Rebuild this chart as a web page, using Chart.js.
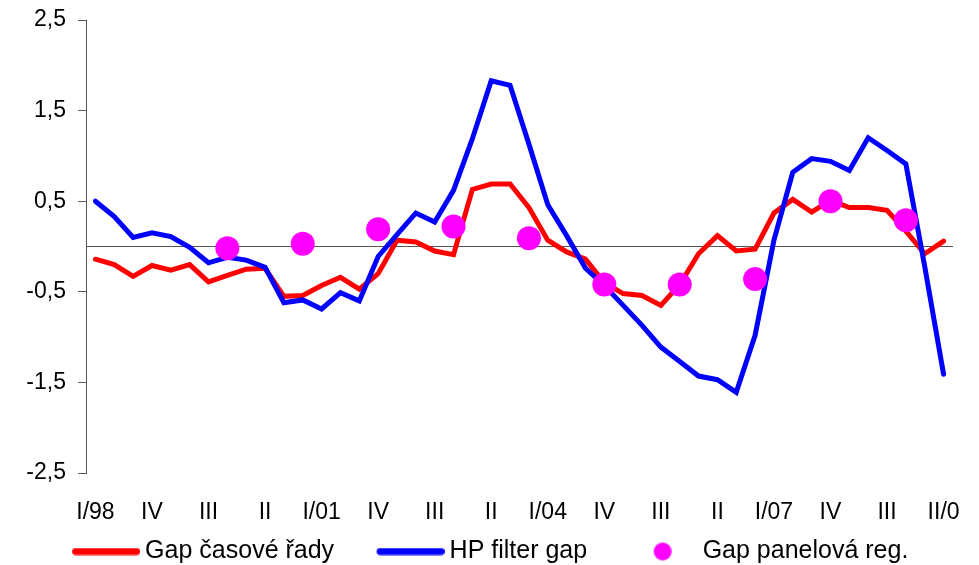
<!DOCTYPE html>
<html>
<head>
<meta charset="utf-8">
<script src="https://cdn.jsdelivr.net/npm/chart.js@4.4.1/dist/chart.umd.min.js"></script>
<style>
  html, body { margin: 0; padding: 0; background: #ffffff; }
  #c { display: block; }
</style>
</head>
<body>
<canvas id="c" width="979" height="565"></canvas>
<script>
// Quarters I/98 .. II/09
const quarters = [
  "I/98","II/98","III/98","IV/98",
  "I/99","II/99","III/99","IV/99",
  "I/00","II/00","III/00","IV/00",
  "I/01","II/01","III/01","IV/01",
  "I/02","II/02","III/02","IV/02",
  "I/03","II/03","III/03","IV/03",
  "I/04","II/04","III/04","IV/04",
  "I/05","II/05","III/05","IV/05",
  "I/06","II/06","III/06","IV/06",
  "I/07","II/07","III/07","IV/07",
  "I/08","II/08","III/08","IV/08",
  "I/09","II/09"
];

// Axis labels shown under every third quarter
const tickLabels = ["I/98","IV","III","II","I/01","IV","III","II","I/04","IV","III","II","I/07","IV","III","II/0"];

// Output gap from the time-series model
const gapTimeSeries = [
  -0.14, -0.20, -0.33, -0.21, -0.26, -0.20, -0.39, -0.32,
  -0.25, -0.24, -0.55, -0.54, -0.43, -0.34, -0.47, -0.30,
   0.07,  0.05, -0.05, -0.09,  0.63,  0.69,  0.69,  0.43,
   0.07, -0.06, -0.14, -0.40, -0.52, -0.54, -0.65, -0.42,
  -0.08,  0.12, -0.05, -0.03,  0.37,  0.52,  0.38,  0.51,
   0.43,  0.43,  0.40,  0.17, -0.08,  0.06
];

// Output gap from the HP filter
const hpFilterGap = [
   0.50,  0.33,  0.10,  0.15,  0.11, -0.01, -0.18, -0.12,
  -0.15, -0.23, -0.62, -0.59, -0.69, -0.51, -0.60, -0.11,
   0.13,  0.37,  0.27,  0.62,  1.19,  1.83,  1.78,  1.13,
   0.46,  0.12, -0.24, -0.43, -0.65, -0.87, -1.11, -1.27,
  -1.43, -1.47, -1.61, -0.98,  0.07,  0.82,  0.97,  0.94,
   0.84,  1.20,  1.06,  0.91, -0.22, -1.41
];

// Output gap from the panel regression (annual, fourth quarters)
const panelQuarters = ["IV/99","IV/00","IV/01","IV/02","IV/03","IV/04","IV/05","IV/06","IV/07","IV/08"];
const panelGap = [-0.02, 0.03, 0.19, 0.22, 0.09, -0.42, -0.42, -0.36, 0.50, 0.29];

const seriesNames = ["Gap časové řady", "HP filter gap", "Gap panelová reg."];
const RED = "#ff0000", BLUE = "#0000ff", MAGENTA = "#ff00ff";
const FONT = 'Arial, "Liberation Sans", sans-serif';

// Legend symbols: a thick line sample or a dot, placed at the right of a wide box
const LEG_BOX = 88;
function legendLine(color) {
  const c = document.createElement("canvas");
  c.width = LEG_BOX + 15; c.height = 8;
  const g = c.getContext("2d");
  g.strokeStyle = color; g.lineWidth = 7; g.lineCap = "round";
  g.beginPath(); g.moveTo(LEG_BOX - 53 + 3.5, 4); g.lineTo(c.width - 3.5, 4); g.stroke();
  return c;
}
function legendDot(color) {
  const c = document.createElement("canvas");
  c.width = LEG_BOX + 15; c.height = 20;
  const g = c.getContext("2d");
  g.fillStyle = color;
  g.beginPath(); g.arc(LEG_BOX - 20, 10, 9, 0, Math.PI * 2); g.fill();
  return c;
}
const legendSymbols = [legendLine(RED), legendLine(BLUE), legendDot(MAGENTA)];

const isLabeledTick = v => Math.abs(Math.round(v * 10)) % 10 === 5;
const noScalePadding = s => { s.paddingLeft = 0; s.paddingRight = 0; s.paddingTop = 0; s.paddingBottom = 0; };

new Chart(document.getElementById("c"), {
  type: "line",
  data: {
    labels: quarters,
    datasets: [
      {
        label: seriesNames[0], data: gapTimeSeries, order: 3,
        borderColor: RED, borderWidth: 5, pointRadius: 0, tension: 0,
        borderCapStyle: "round", fill: false
      },
      {
        label: seriesNames[1], data: hpFilterGap, order: 2,
        borderColor: BLUE, borderWidth: 5, pointRadius: 0, tension: 0,
        borderCapStyle: "round", fill: false
      },
      {
        label: seriesNames[2], order: 1,
        data: panelQuarters.map((q, k) => ({ x: q, y: panelGap[k] })),
        showLine: false, pointRadius: 12, pointHoverRadius: 12,
        pointBackgroundColor: MAGENTA, pointBorderWidth: 0, borderColor: MAGENTA
      }
    ]
  },
  options: {
    responsive: false,
    devicePixelRatio: 1,
    animation: false,
    layout: { padding: { top: 20, right: 26, left: 0, bottom: -9 } },
    plugins: {
      tooltip: { enabled: false },
      legend: {
        position: "bottom",
        labels: {
          usePointStyle: true,
          pointStyleWidth: LEG_BOX,
          padding: 15,
          color: "#000",
          font: { family: FONT, size: 25 },
          generateLabels: () => seriesNames.map((name, i) => ({
            text: name, datasetIndex: i, hidden: false,
            pointStyle: legendSymbols[i], lineWidth: 0,
            fillStyle: "rgba(0,0,0,0)", strokeStyle: "rgba(0,0,0,0)"
          }))
        }
      }
    },
    scales: {
      x: {
        type: "category",
        offset: true,
        grid: { display: false, drawTicks: false },
        border: { display: false },
        ticks: {
          autoSkip: false, maxRotation: 0, minRotation: 0,
          padding: 26, color: "#000",
          font: { family: FONT, size: 23 },
          callback: (v, i) => (i % 3 === 0 ? tickLabels[i / 3] : "")
        },
        afterFit: s => { s.height = 51; noScalePadding(s); }
      },
      y: {
        min: -2.5, max: 2.5,
        grid: {
          lineWidth: 1,
          tickLength: 8,
          color: c => (c.tick && Math.abs(c.tick.value) < 1e-9 ? "#555555" : "rgba(0,0,0,0)"),
          tickColor: c => (c.tick && isLabeledTick(c.tick.value) ? "#555555" : "rgba(0,0,0,0)")
        },
        border: { display: true, color: "#555555", width: 1 },
        ticks: {
          stepSize: 0.5, autoSkip: false, padding: 12, color: "#000",
          font: { family: FONT, size: 23 },
          callback: v => (isLabeledTick(v) ? v.toFixed(1).replace(".", ",") : "")
        },
        afterFit: s => { s.width = 86; noScalePadding(s); }
      }
    }
  }
});
</script>
</body>
</html>
